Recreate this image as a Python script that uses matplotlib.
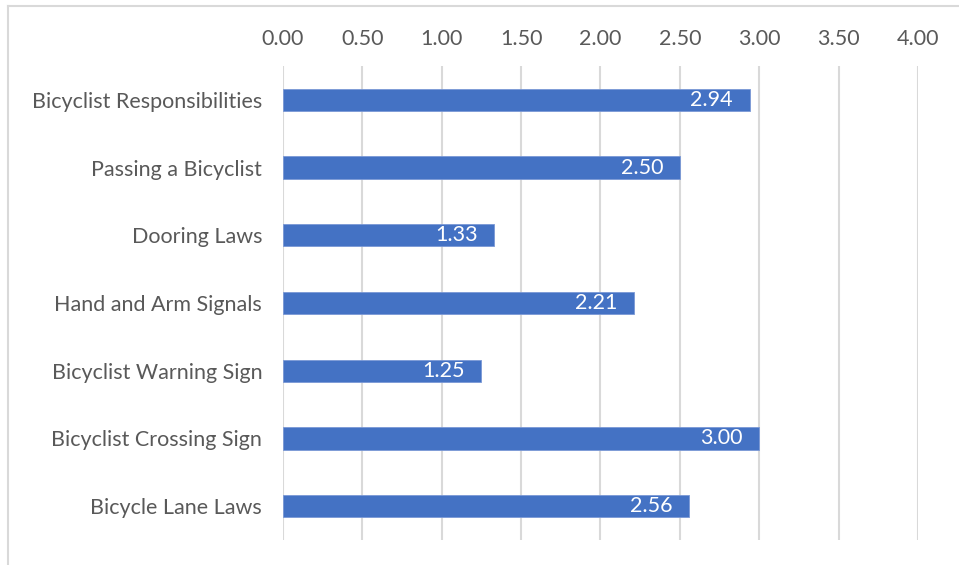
import matplotlib.pyplot as plt
from matplotlib.lines import Line2D

plt.rcParams['font.family'] = ['Lato', 'DejaVu Sans']

# topic scores, listed top to bottom
topics = [
    'Bicyclist Responsibilities',
    'Passing a Bicyclist',
    'Dooring Laws',
    'Hand and Arm Signals',
    'Bicyclist Warning Sign',
    'Bicyclist Crossing Sign',
    'Bicycle Lane Laws',
]
scores = [2.94, 2.50, 1.33, 2.21, 1.25, 3.00, 2.56]
x_ticks = [0, 0.5, 1.0, 1.5, 2.0, 2.5, 3.0, 3.5, 4.0]

text_grey = '#595959'
grid_grey = '#d9d9d9'
bar_blue = '#4472c4'
fs = 15.5

fig = plt.figure(figsize=(9.59, 5.65), dpi=100)
ax = fig.add_axes([0.2951, 0.0442, 0.6621, 0.8390])

pos = list(range(len(topics)))
bars = ax.barh(pos, scores, height=0.33, color=bar_blue,
               edgecolor='#7a98d6', linewidth=0.6, zorder=3)

for rect, v in zip(bars, scores):
    ax.annotate(f'{v:.2f}', (rect.get_width(), rect.get_y() + rect.get_height() / 2),
                xytext=(-12, 0), textcoords='offset points',
                ha='right', va='center', color='white', fontsize=fs, zorder=4)

ax.set_xlim(0, 4.0)
ax.set_ylim(len(topics) - 0.5, -0.5)
ax.set_yticks(pos)
ax.set_yticklabels(topics)
ax.set_xticks(x_ticks)
ax.set_xticklabels([f'{t:.2f}' for t in x_ticks])
ax.xaxis.tick_top()
ax.tick_params(axis='x', length=0, pad=12, labelsize=fs, labelcolor=text_grey)
ax.tick_params(axis='y', length=0, pad=15, labelsize=fs, labelcolor=text_grey)

ax.grid(axis='x', color=grid_grey, linewidth=1.5, zorder=0)
for s in ax.spines.values():
    s.set_visible(False)

# chart frame (top and left edges)
fig.add_artist(Line2D([8 / 959, 1.0], [1 - 6 / 565, 1 - 6 / 565],
                      transform=fig.transFigure, color=grid_grey, linewidth=1.5))
fig.add_artist(Line2D([8 / 959, 8 / 959], [0.0, 1 - 6 / 565],
                      transform=fig.transFigure, color=grid_grey, linewidth=1.5))

fig.savefig('out.png', dpi=100)
